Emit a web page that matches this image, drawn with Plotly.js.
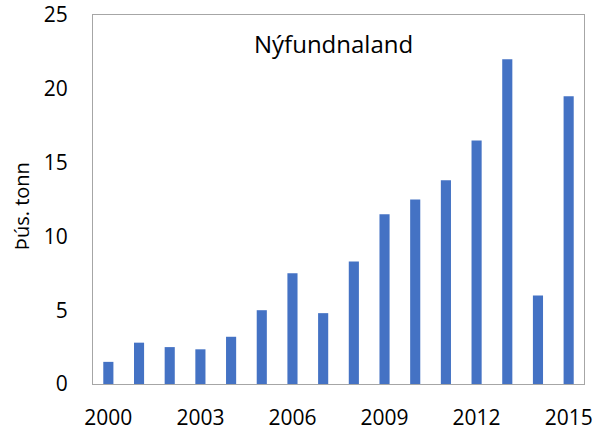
<!DOCTYPE html>
<html>
<head>
<meta charset="utf-8">
<script src="https://cdn.plot.ly/plotly-3.0.1.min.js"></script>
<style>html,body{margin:0;padding:0;background:#fff;}#chart{width:601px;height:430px;}</style>
</head>
<body>
<div id="chart"></div>
<script>
const years = [2000,2001,2002,2003,2004,2005,2006,2007,2008,2009,2010,2011,2012,2013,2014,2015];
const values = [1.5,2.8,2.5,2.35,3.2,5.0,7.5,4.8,8.3,11.5,12.5,13.8,16.5,22.0,6.0,19.5];
const xTicks = [2000,2003,2006,2009,2012,2015];
const yTicks = [0,5,10,15,20,25];
const chartTitle = 'Nýfundnaland';
const yLabel = 'Þús. tonn';

const font = 'Open Sans, Liberation Sans, sans-serif';
Plotly.newPlot('chart', [{
  type: 'bar', x: years, y: values, width: 0.33,
  marker: {color: '#4472C4'}, hoverinfo: 'skip'
}], {
  width: 601, height: 430,
  margin: {l: 93, r: 17, t: 15, b: 46},
  paper_bgcolor: '#fff', plot_bgcolor: '#fff',
  showlegend: false,
  font: {family: font, color: '#000', size: 21},
  xaxis: {range: [1999.5, 2015.5], tickvals: xTicks, ticktext: xTicks.map(String),
    showgrid: false, zeroline: false, showline: true, mirror: true, linecolor: '#a6a6a6', linewidth: 1,
    ticks: '', ticklabelstandoff: 15, tickfont: {size: 21}},
  yaxis: {range: [0, 25], tickvals: yTicks, ticktext: yTicks.map(String),
    showgrid: false, zeroline: false, showline: true, mirror: true, linecolor: '#a6a6a6', linewidth: 1,
    ticks: '', ticklabelstandoff: 20, tickfont: {size: 21}},
  annotations: [
    {text: chartTitle, xref: 'paper', yref: 'paper', x: 0.49, y: 0.922,
      xanchor: 'center', yanchor: 'middle', showarrow: false, font: {size: 24, color: '#000'}},
    {text: yLabel, xref: 'paper', yref: 'paper', x: 0, y: 0.482, xshift: -72, textangle: -90,
      xanchor: 'center', yanchor: 'middle', showarrow: false, font: {size: 20, color: '#000'}}
  ]
}, {staticPlot: true});
</script>
</body>
</html>
